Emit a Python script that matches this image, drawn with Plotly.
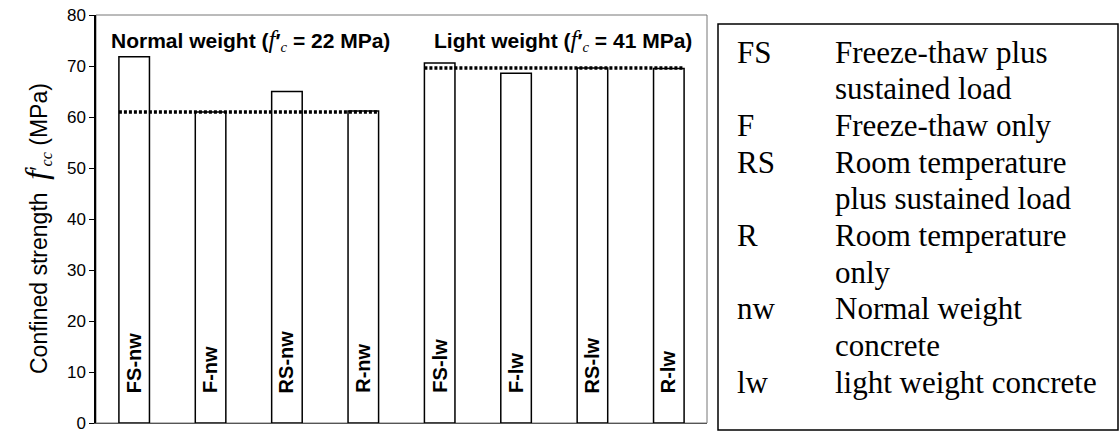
import plotly.graph_objects as go

# ---- data ----
categories = ["FS-nw", "F-nw", "RS-nw", "R-nw", "FS-lw", "F-lw", "RS-lw", "R-lw"]
strength = [71.8, 61.0, 65.0, 61.2, 70.6, 68.6, 69.6, 69.5]
ref_nw = 61.0   # dotted reference, normal weight group
ref_lw = 69.6   # dotted reference, light weight group
y_ticks = [0, 10, 20, 30, 40, 50, 60, 70, 80]
fsym = "<span style='font-family:Liberation Serif;font-weight:normal;font-size:25px'><i>f</i></span>"
csub = "<sub><span style='font-family:Liberation Serif;font-weight:normal'><i>c</i></span></sub>"
group_titles = ["Normal weight (" + fsym + "′" + csub + " = 22 MPa)",
                "Light weight (" + fsym + "′" + csub + " = 41 MPa)"]
legend_codes = ["FS", "F", "RS", "R", "nw", "lw"]
legend_desc = [["Freeze-thaw plus", "sustained load"],
               ["Freeze-thaw only"],
               ["Room temperature", "plus sustained load"],
               ["Room temperature", "only"],
               ["Normal weight", "concrete"],
               ["light weight concrete"]]

# ---- layout constants ----
W, H = 1120, 434
L, R, T, B = 96, 413, 15, 11
bar_w = 0.40
sans = "Liberation Sans, Arial, sans-serif"
serif = "Liberation Serif, Times New Roman, serif"

x_idx = list(range(len(categories)))
fig = go.Figure()
fig.add_trace(go.Bar(x=x_idx, y=strength, width=bar_w,
                     marker=dict(color="white", line=dict(color="black", width=1.5)),
                     showlegend=False, hoverinfo="x+y"))

# dotted reference lines spanning each group of four bars
def ref_line(idx0, idx1, val):
    fig.add_trace(go.Scatter(x=[x_idx[idx0] - bar_w / 2, x_idx[idx1] + bar_w / 2], y=[val, val],
                             mode="lines", line=dict(color="black", width=3.5, dash="3px,2px"),
                             showlegend=False, hoverinfo="skip"))
ref_line(0, 3, ref_nw)
ref_line(4, 7, ref_lw)

ann = []
# vertical labels inside bars
for i, c in enumerate(categories):
    ann.append(dict(x=x_idx[i], y=5.5, xref="x", yref="y", text=c, textangle=-90,
                    showarrow=False, yanchor="bottom", xanchor="center",
                    font=dict(family=sans, size=20, color="black", weight="bold")))

plot_h = H - T - B
plot_w = W - L - R
def py(ypix):
    return (H - B - ypix) / plot_h
def px(xpix):
    return (xpix - L) / plot_w

# group titles
ann.append(dict(x=px(250), y=py(40), xref="paper", yref="paper", text=group_titles[0],
                showarrow=False, xanchor="center", yanchor="middle",
                font=dict(family=sans, size=21, color="black", weight="bold")))
ann.append(dict(x=px(563), y=py(40), xref="paper", yref="paper", text=group_titles[1],
                showarrow=False, xanchor="center", yanchor="middle",
                font=dict(family=sans, size=21, color="black", weight="bold")))

# y-axis title
ann.append(dict(x=px(36), y=py(229), xref="paper", yref="paper",
                text="Confined strength  <span style='font-family:Liberation Serif;font-size:32px'><i>f</i></span>′<sub><span style='font-family:Liberation Serif'><i>cc</i></span></sub> (MPa)",
                textangle=-90, showarrow=False, xanchor="center", yanchor="middle",
                font=dict(family=sans, size=23, color="black")))

# legend box (explanation table)
line_gap = 36.7
first_center = 52
row = 0
for code, desc in zip(legend_codes, legend_desc):
    yc = first_center + row * line_gap
    ann.append(dict(x=px(735), y=py(yc), xref="paper", yref="paper", text=code,
                    showarrow=False, xanchor="left", yanchor="middle",
                    font=dict(family=serif, size=31, color="black")))
    for d in desc:
        yc = first_center + row * line_gap
        ann.append(dict(x=px(833), y=py(yc), xref="paper", yref="paper", text=d,
                        showarrow=False, xanchor="left", yanchor="middle",
                        font=dict(family=serif, size=31, color="black")))
        row += 1

shapes = [
    # plot frame (thin gray)
    dict(type="rect", xref="paper", yref="paper", x0=0, x1=1, y0=0, y1=1,
         line=dict(color="#777777", width=1), layer="below"),
    # legend frame
    dict(type="rect", xref="paper", yref="paper", x0=px(718), x1=px(1118), y0=py(430), y1=py(24),
         line=dict(color="black", width=1.5)),
]

fig.update_layout(
    width=W, height=H, margin=dict(l=L, r=R, t=T, b=B, autoexpand=False),
    paper_bgcolor="white", plot_bgcolor="white",
    annotations=ann, shapes=shapes,
    xaxis=dict(range=[-0.5, len(categories) - 0.5], showticklabels=False, ticks="",
               showgrid=False, zeroline=False, showline=True, linecolor="#555555", linewidth=1,
               automargin=False),
    yaxis=dict(range=[0, 80], tickvals=y_ticks, ticks="outside", ticklen=5, tickcolor="black",
               showgrid=False, zeroline=False, showline=True, linecolor="black", linewidth=1.5,
               ticklabeloverflow="allow", automargin=False,
               tickfont=dict(family=sans, size=17, color="black")),
    font=dict(family=sans),
)

fig.write_html("out.html")
